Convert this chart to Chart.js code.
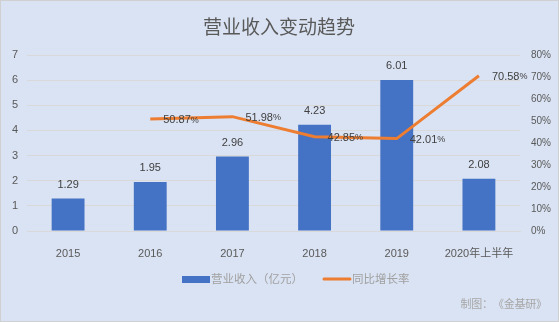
<!DOCTYPE html>
<html>
<head>
<meta charset="utf-8">
<script src="https://cdn.jsdelivr.net/npm/chart.js@4/dist/chart.umd.min.js"></script>
<style>
    html, body { margin: 0; padding: 0; background: #fff; }
    #wrap {
        position: relative;
        width: 557px; height: 320px;
        background: #dae3f3;
        border: 1px solid #d0d0d0;
    }
    canvas { display: block; }
</style>
</head>
<body>
<div id="wrap"><canvas id="chart" width="557" height="320"></canvas></div>
<script>
// 数据
const categories = ['2015', '2016', '2017', '2018', '2019', '2020年上半年'];
const revenue = [1.29, 1.95, 2.96, 4.23, 6.01, 2.08];          // 营业收入（亿元）
const growth = [null, 50.87, 51.98, 42.85, 42.01, 70.58];       // 同比增长率 %
const revenueTicks = [0, 1, 2, 3, 4, 5, 6, 7];
const growthTicks = [0, 10, 20, 30, 40, 50, 60, 70, 80];

const TEXT = '#595959';
const LIGHT = '#a0a0a0';
const CJK = "'Noto Sans CJK SC', sans-serif";
const NUM = "'Liberation Sans', 'Noto Sans CJK SC', sans-serif";
const BLUE = '#4472c4';
const ORANGE = '#ed7d31';

// 数字 + 小号百分号
const drawPercent = (ctx, text, x, y, size) => {
    ctx.font = size + 'px ' + NUM;
    ctx.fillText(text, x, y);
    const w = ctx.measureText(text).width;
    ctx.font = Math.round(size * 0.8) + 'px ' + NUM;
    ctx.fillText('%', x + w, y);
};

// 标题、数据标签、图例、来源
const decorPlugin = {
    id: 'decor',
    afterDatasetsDraw(chart) {
        const ctx = chart.ctx;
        ctx.save();
        ctx.fillStyle = '#404040';
        ctx.textBaseline = 'middle';

        const barMeta = chart.getDatasetMeta(0);
        ctx.font = '11px ' + NUM;
        ctx.textAlign = 'center';
        barMeta.data.forEach((bar, i) => {
            ctx.fillText(revenue[i].toFixed(2), bar.x, bar.y - 14);
        });

        const lineMeta = chart.getDatasetMeta(1);
        ctx.textAlign = 'left';
        lineMeta.data.forEach((pt, i) => {
            if (growth[i] == null) return;
            drawPercent(ctx, growth[i].toFixed(2), pt.x + 13, pt.y + 1, 11);
        });
        ctx.restore();
    },
    afterDraw(chart) {
        const ctx = chart.ctx;
        ctx.save();
        ctx.textBaseline = 'middle';

        // 标题
        ctx.fillStyle = TEXT;
        ctx.font = '19px ' + CJK;
        ctx.textAlign = 'center';
        ctx.fillText('营业收入变动趋势', 278, 26);

        // 图例
        ctx.font = '11.5px ' + CJK;
        ctx.textAlign = 'left';
        ctx.fillStyle = BLUE;
        ctx.fillRect(181, 275, 28, 7);
        ctx.fillStyle = LIGHT;
        ctx.fillText('营业收入（亿元）', 210, 278);
        ctx.strokeStyle = ORANGE;
        ctx.lineWidth = 3;
        ctx.lineCap = 'round';
        ctx.beginPath();
        ctx.moveTo(323, 278);
        ctx.lineTo(349, 278);
        ctx.stroke();
        ctx.fillText('同比增长率', 351, 278);

        // 来源（逐字等宽排列）
        ctx.font = '11px ' + CJK;
        ctx.fillStyle = '#a6a6a6';
        ctx.textAlign = 'center';
        const src = '制图：《金基研》';
        [...src].forEach((ch, i) => {
            ctx.fillText(ch, 465 + i * 10.8, 303);
        });
        ctx.restore();
    }
};

new Chart(document.getElementById('chart'), {
    type: 'bar',
    data: {
        labels: categories,
        datasets: [
            {
                label: '营业收入（亿元）',
                data: revenue,
                backgroundColor: BLUE,
                categoryPercentage: 1,
                barPercentage: 0.4,
                yAxisID: 'y',
                order: 2
            },
            {
                type: 'line',
                label: '同比增长率',
                data: growth,
                borderColor: ORANGE,
                borderWidth: 3,
                pointRadius: 0,
                tension: 0,
                spanGaps: false,
                yAxisID: 'y1',
                order: 1
            }
        ]
    },
    options: {
        responsive: false,
        animation: false,
        layout: { padding: { top: 54, left: 0, right: 0, bottom: 60 } },
        plugins: {
            legend: { display: false },
            title: { display: false },
            tooltip: { enabled: false }
        },
        scales: {
            x: {
                grid: { display: false },
                border: { color: '#d9d9d9' },
                ticks: { color: TEXT, font: { family: NUM, size: 11 }, padding: 8, maxRotation: 0 },
                afterFit: (s) => { s.height = 30; }
            },
            y: {
                position: 'left',
                min: 0, max: 7,
                afterBuildTicks: (s) => { s.ticks = revenueTicks.map(v => ({ value: v })); },
                grid: { color: '#d9d9d9', drawTicks: false },
                border: { display: false },
                ticks: { color: TEXT, font: { family: NUM, size: 11 }, padding: 9 },
                afterFit: (s) => { s.width = 26; }
            },
            y1: {
                position: 'right',
                min: 0, max: 80,
                afterBuildTicks: (s) => { s.ticks = growthTicks.map(v => ({ value: v })); },
                grid: { display: false, drawTicks: false },
                border: { display: false },
                ticks: {
                    color: TEXT, font: { family: NUM, size: 10 }, padding: 11,
                    callback: (v) => v + '%'
                },
                afterFit: (s) => { s.width = 38; }
            }
        }
    },
    plugins: [decorPlugin]
});
</script>
</body>
</html>
